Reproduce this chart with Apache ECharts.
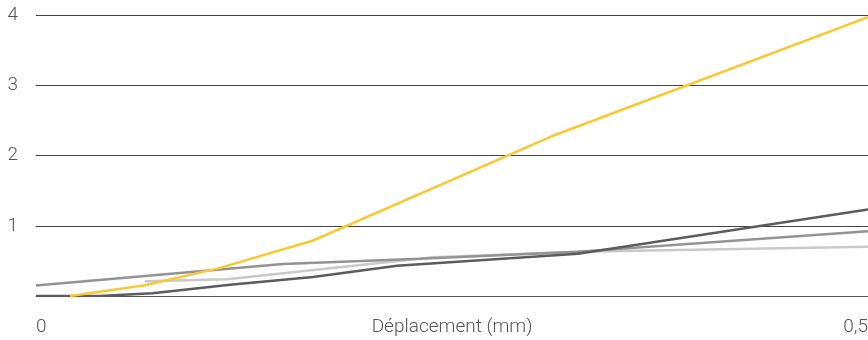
<!DOCTYPE html>
<html>
<head>
<meta charset="utf-8">
<script src="https://cdn.jsdelivr.net/npm/echarts@6/dist/echarts.min.js"></script>
<style>html,body{margin:0;padding:0;background:#fff}#c{width:868px;height:340px}</style>
</head>
<body>
<div id="c"></div>
<script>
// x = déplacement (mm), y = valeur
const lightX  = [0.0655, 0.1148, 0.2386, 0.3257, 0.5];
const lightY  = [0.21, 0.24, 0.55, 0.63, 0.70];
const mediumX = [0, 0.1484, 0.2308, 0.3257, 0.5];
const mediumY = [0.15, 0.455, 0.53, 0.63, 0.92];
const darkX   = [0, 0.038, 0.070, 0.1166, 0.1665, 0.217, 0.3257, 0.5];
const darkY   = [0, 0, 0.04, 0.16, 0.27, 0.43, 0.60, 1.23];
const yellowX = [0.0204, 0.0655, 0.1106, 0.1665, 0.3095, 0.5];
const yellowY = [0, 0.153, 0.40, 0.79, 2.27, 3.97];
const xName = 'Déplacement (mm)';
const yTicks = [0, 1, 2, 3, 4];

function pairs(xs, ys) { return xs.map((x, i) => [x, ys[i]]); }

const font = 'Roboto';
const fs = 19;
const chart = echarts.init(document.getElementById('c'));
chart.setOption({
  animation: false,
  grid: { left: 36, right: 0, top: 15, bottom: 44, containLabel: false, outerBoundsMode: 'none' },
  xAxis: {
    type: 'value', min: 0, max: 0.5, interval: 0.5,
    name: xName, nameLocation: 'middle', nameGap: 22, nameMoveOverlap: false,
    nameTextStyle: { color: '#555', fontSize: fs, fontFamily: font, fontWeight: 300, verticalAlign: 'top' },
    axisLine: { show: true, lineStyle: { color: '#555', width: 1 } },
    axisTick: { show: false },
    splitLine: { show: false },
    axisLabel: {
      margin: 22, color: '#555', fontSize: fs, fontFamily: font, fontWeight: 300,
      verticalAlign: 'top',
      alignMinLabel: 'left', alignMaxLabel: 'right',
      formatter: v => String(v).replace('.', ',')
    }
  },
  yAxis: {
    type: 'value', min: yTicks[0], max: yTicks[yTicks.length - 1], interval: 1,
    axisLine: { show: false }, axisTick: { show: false },
    splitLine: { show: true, lineStyle: { color: '#444', width: 1 } },
    axisLabel: {
      margin: 18, color: '#555', fontSize: fs, fontFamily: font, fontWeight: 300,
      formatter: v => v === 0 ? '' : String(v)
    }
  },
  series: [
    { type: 'line', data: pairs(lightX, lightY), symbol: 'none', lineStyle: { color: '#c9c9c9', width: 2.5 }, z: 2 },
    { type: 'line', data: pairs(mediumX, mediumY), symbol: 'none', lineStyle: { color: '#939393', width: 2.5 }, z: 3 },
    { type: 'line', data: pairs(darkX, darkY), symbol: 'none', lineStyle: { color: '#5c5c5c', width: 2.5 }, z: 4 },
    { type: 'line', data: pairs(yellowX, yellowY), symbol: 'none', lineStyle: { color: '#fcc832', width: 2.5 }, z: 5 }
  ]
});
</script>
</body>
</html>
